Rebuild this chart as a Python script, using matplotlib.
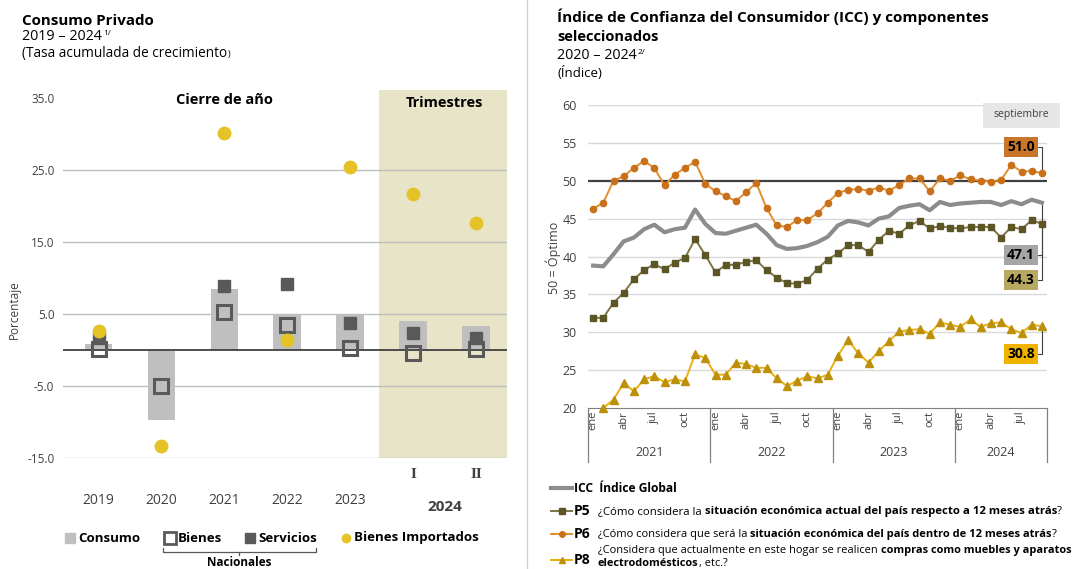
import matplotlib
matplotlib.use("Agg")
import matplotlib.pyplot as plt
import matplotlib.transforms as mtransforms
from matplotlib.patches import Rectangle
from matplotlib.lines import Line2D
import numpy as np

W, H = 1073, 569
plt.rcParams["font.family"] = ["Open Sans", "DejaVu Sans"]

# ---- Consumo privado (tasa acumulada de crecimiento, %)
periodos = ["2019", "2020", "2021", "2022", "2023", "I", "II"]
consumo = [0.8, -9.8, 8.4, 4.9, 5.0, 4.0, 3.3]
bienes = [0.1, -5.0, 5.2, 3.4, 0.2, -0.5, 0.1]
servicios = [1.6, -16.5, 8.9, 9.1, 3.7, 2.3, 1.7]   # 2020 queda fuera de escala
importados = [2.6, -13.4, 30.1, 1.4, 25.4, 21.6, 17.6]

# ---- ICC mensual, ene 2021 - sep 2024
meses = ["ene", "abr", "jul", "oct"]
anios = ["2021", "2022", "2023", "2024"]
icc = [38.8, 38.7, 40.3, 42.0, 42.5, 43.6, 44.2, 43.2, 43.6, 43.8, 46.2, 44.3,
       43.1, 43.0, 43.4, 43.8, 44.2, 43.0, 41.5, 41.0, 41.1, 41.4, 41.9, 42.6,
       44.1, 44.7, 44.5, 44.1, 45.0, 45.3, 46.4, 46.7, 46.9, 46.1, 47.2, 46.8,
       47.0, 47.1, 47.2, 47.2, 46.8, 47.3, 46.9, 47.5, 47.1]
p5 = [31.9, 31.9, 33.9, 35.2, 37.0, 38.2, 39.0, 38.3, 39.2, 39.8, 42.3, 40.2,
      37.9, 38.9, 38.9, 39.3, 39.5, 38.2, 37.2, 36.5, 36.4, 36.9, 38.4, 39.6,
      40.4, 41.5, 41.5, 40.6, 42.2, 43.4, 43.0, 44.1, 44.7, 43.7, 44.0, 43.8,
      43.7, 43.9, 43.9, 43.9, 42.5, 43.9, 43.6, 44.8, 44.3]
p6 = [46.3, 47.1, 50.0, 50.6, 51.7, 52.6, 51.7, 49.4, 50.8, 51.7, 52.5, 49.6,
      48.6, 48.0, 47.3, 48.5, 49.7, 46.4, 44.1, 43.9, 44.8, 44.8, 45.7, 47.1,
      48.4, 48.8, 48.9, 48.7, 49.1, 48.7, 49.4, 50.3, 50.3, 48.6, 50.3, 50.0,
      50.7, 50.2, 50.0, 49.9, 50.1, 52.1, 51.2, 51.3, 51.0]
p8 = [19.6, 20.0, 21.1, 23.3, 22.2, 23.8, 24.2, 23.4, 23.8, 23.5, 27.1, 26.6,
      24.4, 24.4, 26.0, 25.8, 25.3, 25.3, 23.9, 22.9, 23.6, 24.2, 23.9, 24.4,
      26.9, 29.0, 27.2, 26.0, 27.5, 28.8, 30.1, 30.3, 30.4, 29.8, 31.3, 31.0,
      30.7, 31.7, 30.7, 31.2, 31.3, 30.4, 29.9, 31.0, 30.8]

fig = plt.figure(figsize=(W / 100, H / 100), dpi=100)
R = fig.canvas.get_renderer()


def rect(x0, y0, x1, y1):
    return [x0 / W, 1 - y1 / H, (x1 - x0) / W, (y1 - y0) / H]


def ftext(x, y, s, **kw):
    return fig.text(x / W, 1 - y / H, s, **kw)


def rich(x, y, parts, size, width=None, color="black"):
    # parts: (texto, negrita); se colocan uno tras otro sobre la misma linea base
    def draw(sz):
        arts, cx = [], x
        sp = sz * 0.26 * 100 / 72
        for s, b in parts:
            lead = len(s) - len(s.lstrip(" "))
            trail = len(s) - len(s.rstrip(" "))
            cx += lead * sp
            t = ftext(cx, y, s.strip(" "), fontsize=sz, color=color,
                      fontweight="bold" if b else "normal", va="baseline")
            arts.append(t)
            cx = t.get_window_extent(R).x1 + trail * sp
        return arts, cx
    arts, end = draw(size)
    if width:
        for a in arts:
            a.remove()
        size = size * width / (end - x)
        arts, end = draw(size)
    return size, end


# separador entre paneles
fig.add_artist(Line2D([527 / W, 527 / W], [0, 1], color="#d0d0d0", lw=1))

# ================= Panel izquierdo =================
ax1 = fig.add_axes(rect(62.7, 90, 507.4, 458.4))
x = np.arange(len(periodos))
ax1.axvspan(4.46, 6.6, color="#e8e4c8", zorder=0, lw=0)
for g in [25, 15, 5, -5, -15]:
    ax1.axhline(g, color="#bfbfbf", lw=1, zorder=1)
ax1.bar(x, consumo, width=0.44, color="#bfbfbf", zorder=2)
ax1.axhline(0, color="#404040", lw=1.3, zorder=3)
ax1.plot(x, servicios, ls="none", marker="s", ms=9, color="#595959", zorder=4)
ax1.plot(x, bienes, ls="none", marker="s", ms=10.5, mfc="none",
         mec="#595959", mew=2.2, zorder=5)
ax1.plot(x, importados, ls="none", marker="o", ms=10, color="#e6c229",
         mec="none", zorder=6)
ax1.set_xlim(-0.57, 6.5)
ax1.set_ylim(-15.1, 36.1)
ax1.set_yticks([35, 25, 15, 5, -5, -15])
ax1.set_yticklabels([f"{v:.1f}" for v in [35, 25, 15, 5, -5, -15]])
ax1.set_xticks([])
ax1.tick_params(axis="y", length=0, labelsize=8.5, labelcolor="#404040", pad=6)
for s in ax1.spines.values():
    s.set_visible(False)

tr1 = mtransforms.blended_transform_factory(ax1.transData, fig.transFigure)
for i, p in enumerate(periodos):
    if p in ("I", "II"):
        ax1.text(i, 1 - 474 / H, p, transform=tr1, ha="center", va="center",
                 fontsize=11, fontweight="bold", family="Liberation Serif",
                 color="#404040")
    else:
        ax1.text(i, 1 - 500 / H, p, transform=tr1, ha="center", va="center",
                 fontsize=10, color="#404040")
ax1.text(5.5, 1 - 507 / H, "2024", transform=tr1, ha="center", va="center",
         fontsize=11, fontweight="bold", color="#404040")
ax1.text(2.0, 1 - 100 / H, "Cierre de año", transform=tr1, ha="center",
         va="center", fontsize=10.5, fontweight="bold")
ax1.text(5.5, 1 - 103 / H, "Trimestres", transform=tr1, ha="center",
         va="center", fontsize=10.5, fontweight="bold")
ftext(14, 310, "Porcentaje", rotation=90, ha="center", va="center",
      fontsize=8.5, color="#404040")

# titulo izquierdo
rich(22, 25, [("Consumo Privado", True)], 10.5, width=132)
sz, end = rich(22, 40, [("2019 – 2024", False)], 9.5, width=80)
ftext(end + 1, 35, "1/", fontsize=6, va="baseline")
sz, end = rich(22, 57, [("(Tasa acumulada de crecimiento", False)], 9.5, width=208)
ftext(end + 0.5, 57, ")", fontsize=6.5, va="baseline")

# leyenda izquierda
ly = 538
def lmark(px, **kw):
    fig.add_artist(Line2D([px / W], [1 - ly / H], ls="none", **kw))
lmark(70, marker="s", ms=7, color="#bfbfbf")
lmark(170, marker="s", ms=8, mfc="none", mec="#595959", mew=2)
lmark(250, marker="s", ms=7, color="#595959")
lmark(346, marker="o", ms=7, color="#e6c229", mec="none")
for px, s in [(78, "Consumo"), (178, "Bienes"), (258, "Servicios"),
              (354, "Bienes Importados")]:
    ftext(px, ly, s, fontsize=9.5, fontweight="bold", va="center")
bx = [163 / W, 163 / W, 316 / W, 316 / W]
by = [1 - 548 / H, 1 - 552 / H, 1 - 552 / H, 1 - 548 / H]
fig.add_artist(Line2D(bx, by, color="#595959", lw=0.9))
fig.add_artist(Line2D([239 / W, 239 / W], [1 - 552 / H, 1 - 555 / H],
                      color="#595959", lw=0.9))
ftext(239, 563, "Nacionales", fontsize=8.5, fontweight="bold", ha="center",
      va="center")

# ================= Panel derecho =================
ax2 = fig.add_axes(rect(588, 105, 1047, 408))
t = np.arange(len(icc))
for g in range(25, 65, 5):
    if g == 50:
        ax2.axhline(g, color="#404040", lw=1.6, zorder=2)
    else:
        ax2.axhline(g, color="#d9d9d9", lw=1, zorder=1)
ax2.plot(t, icc, color="#8c8c8c", lw=3, zorder=3, solid_joinstyle="round")
ax2.plot(t, p6, color="#e28e2c", lw=1.4, marker="o", ms=4.5,
         mfc="#c8701a", mec="#c8701a", zorder=4)
ax2.plot(t, p5, color="#7d7544", lw=1.4, marker="s", ms=4.5,
         mfc="#5c5627", mec="#5c5627", zorder=4)
p8a = np.array(p8)
ax2.plot(t, p8a, color="#e8b010", lw=1.4, zorder=4)
dentro = p8a >= 20
ax2.plot(t[dentro], p8a[dentro], ls="none", marker="^", ms=5.5,
         mfc="#bd900a", mec="#bd900a", zorder=5, clip_on=False)
ax2.set_xlim(-0.5, 44.5)
ax2.set_ylim(20, 60)
ax2.set_yticks(range(20, 65, 5))
ax2.set_xticks([])
ax2.tick_params(axis="y", length=0, labelsize=9, labelcolor="#404040", pad=8)
for k in ["left", "right", "top"]:
    ax2.spines[k].set_visible(False)
ax2.spines["bottom"].set_color("#808080")

tr2 = mtransforms.blended_transform_factory(ax2.transData, fig.transFigure)
for yi, a in enumerate(anios):
    n = 9 if a == "2024" else 12
    m0 = yi * 12
    for k, mes in enumerate(meses):
        if k * 3 < n:
            ax2.text(m0 + k * 3, 1 - 411 / H, mes, transform=tr2, rotation=90,
                     ha="center", va="top", fontsize=8, color="#404040")
    ax2.text(m0 + (n - 1) / 2, 1 - 452 / H, a, transform=tr2, ha="center",
             va="center", fontsize=9, color="#404040")
for b in [-0.5, 11.5, 23.5, 35.5, 44.5]:
    ax2.add_line(Line2D([b, b], [1 - 408 / H, 1 - 462 / H], transform=tr2,
                        color="#808080", lw=0.9, clip_on=False))

ftext(553, 258, "50 = Óptimo", rotation=90, ha="center", va="center",
      fontsize=9, color="#404040")
fig.add_artist(Rectangle((983 / W, 1 - 128 / H), 77 / W, 25 / H,
                         transform=fig.transFigure, color="#e6e6e6", lw=0))
ftext(1021, 115, "septiembre", fontsize=7.5, ha="center", va="center",
      color="#404040")

etiquetas = [(p6, "#c8772a", 147), (icc, "#a6a6a6", 255),
             (p5, "#b8a862", 280), (p8, "#f0b400", 354)]
for serie, col, py in etiquetas:
    ax2.annotate(f"{serie[-1]:.1f}", xy=(len(serie) - 1, serie[-1]),
                 xycoords="data", xytext=(1021, H - py),
                 textcoords="figure pixels", ha="center", va="center",
                 fontsize=10, fontweight="bold", annotation_clip=False,
                 bbox=dict(boxstyle="square,pad=0.22", fc=col, ec="none"),
                 arrowprops=dict(arrowstyle="-", color="#404040", lw=0.8,
                                 shrinkA=0, shrinkB=2,
                                 connectionstyle="angle,angleA=0,angleB=90,rad=0"))

# titulo derecho
rich(557, 22, [("Índice de Confianza del Consumidor (ICC) y componentes", True)],
     10.5, width=433)
rich(557, 41, [("seleccionados", True)], 10.5)
sz, end = rich(557, 59, [("2020 – 2024", False)], 9.5, width=80)
ftext(end + 1, 54, "2/", fontsize=6, va="baseline")
rich(557, 77, [("(Índice)", False)], 9.5)

# leyenda derecha
def lsample(py, color, lw, marker=None, ms=4, mcol=None):
    fig.add_artist(Line2D([551 / W, 572 / W], [1 - py / H, 1 - py / H],
                          color=color, lw=lw))
    if marker:
        fig.add_artist(Line2D([562 / W], [1 - py / H], ls="none",
                              marker=marker, ms=ms, color=mcol))

lsample(488, "#8c8c8c", 3)
rich(574, 492, [("ICC  Índice Global", True)], 10, width=103)

lsample(511, "#7d7544", 1.4, "s", 4, "#5c5627")
rich(574, 515, [("P5", True)], 10)
rich(598, 514, [("¿Cómo considera la ", False),
                ("situación económica actual del país respecto a 12 meses atrás", True),
                ("?", False)], 8.5, width=460)

lsample(534, "#e28e2c", 1.4, "o", 4, "#c8701a")
rich(574, 538, [("P6", True)], 10)
rich(598, 537, [("¿Cómo considera que será la ", False),
                ("situación económica del país dentro de 12 meses atrás", True),
                ("?", False)], 8.5, width=455)

lsample(560, "#e8b010", 1.4, "^", 5, "#bd900a")
rich(574, 564, [("P8", True)], 10)
qsz, _ = rich(598, 553, [("¿Considera que actualmente en este hogar se realicen ", False),
                         ("compras como muebles y aparatos", True)], 8.5, width=470)
rich(598, 566, [("electrodomésticos", True), (", etc.?", False)], qsz)

fig.savefig("out.png", dpi=100)
